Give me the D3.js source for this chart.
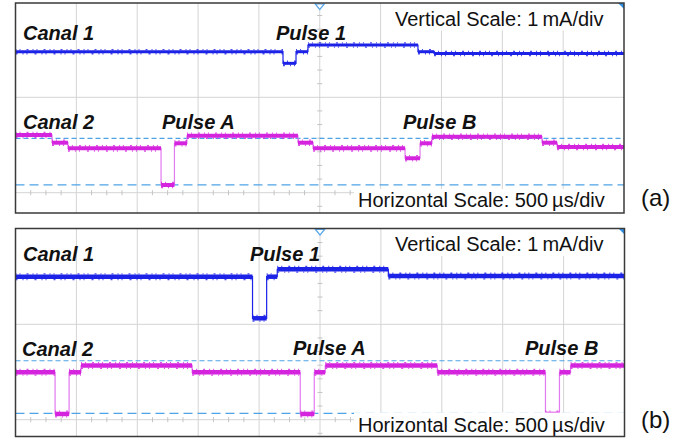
<!DOCTYPE html>
<html>
<head>
<meta charset="utf-8">
<script src="https://cdn.jsdelivr.net/npm/d3@7"></script>
<style>
  html, body { margin: 0; padding: 0; background: #fff; }
  svg { display: block; font-family: "Liberation Sans", Arial, sans-serif; }
</style>
</head>
<body>
<svg id="chart" width="695" height="438"></svg>
<script>
// ---------------- DATA ----------------
// Time in µs (10 div × 500 µs/div), current in mA relative to the screen centre line (1 mA/div)
const panelIds = ["(a)", "(b)"];
const verticalScaleText = "Vertical Scale: 1\u2009mA/div";
const horizontalScaleText = "Horizontal Scale: 500\u2009µs/div";
const timeDomain = [0, 5000];

// Panel (a) — Canal 1 (step breakpoints and levels)
const a_ch1_t = [0, 2198, 2305, 2403, 3307, 3439, 5000];
const a_ch1_v = [1.478, 1.356, 1.478, 1.548, 1.478, 1.459];
// Panel (a) — Canal 2
const a_ch2_t = [0, 300, 431, 1196, 1306, 1409, 2321, 2445, 3201, 3324, 3422, 4326, 4450, 5000];
const a_ch2_v = [0.605, 0.524, 0.465, 0.081, 0.518, 0.597, 0.524, 0.465, 0.361, 0.518, 0.587, 0.524, 0.479];
const a_cursors = [0.570, 0.081];

// Panel (b) — Canal 1
const b_ch1_t = [0, 1946, 2062, 2149, 3061, 5000];
const b_ch1_v = [1.499, 1.063, 1.499, 1.577, 1.506];
// Panel (b) — Canal 2
const b_ch2_t = [0, 325, 440, 538, 1450, 2338, 2453, 2543, 3463, 4351, 4466, 4557, 5000];
const b_ch2_v = [0.497, 0.060, 0.497, 0.568, 0.497, 0.060, 0.497, 0.568, 0.497, 0.060, 0.497, 0.568];
const b_cursors = [0.618, 0.067];

// Labels
const a_labels = ["Canal 1", "Pulse 1", "Canal 2", "Pulse A", "Pulse B"];
const b_labels = ["Canal 1", "Pulse 1", "Canal 2", "Pulse A", "Pulse B"];

// ---------------- LAYOUT / STYLE ----------------
const layout = [
  { left: 15.5, right: 624, top: 3, bottom: 213, center: 192.7,
    t: a_ch1_t, v1: a_ch1_v, t2: a_ch2_t, v2: a_ch2_v, cursors: a_cursors, labels: a_labels,
    labelPos: [[23, 40], [276, 40], [23, 129], [162, 129], [403, 129]],
    w1: 3, w2: 4, idBase: 206, vBase: 26, hBase: 206.5 },
  { left: 15.5, right: 624.5, top: 228.5, bottom: 436.5, center: 419.7,
    t: b_ch1_t, v1: b_ch1_v, t2: b_ch2_t, v2: b_ch2_v, cursors: b_cursors, labels: b_labels,
    labelPos: [[23, 261], [250, 261], [22, 356], [293, 355], [525, 355]],
    w1: 4.5, w2: 4.5, idBase: 428, vBase: 250.5, hBase: 431.5 }
];
const divPx = 95.4;
const blue = "#1c22e6", magenta = "#d424de", magentaEdge = "#e27af0";
const gridColor = "#d4d4d4", cursorColor = "#4ea3e6";

const svg = d3.select("#chart");

layout.forEach((P, pi) => {
  const g = svg.append("g");
  const x = d3.scaleLinear().domain(timeDomain).range([P.left, P.right]);
  const y = d3.scaleLinear().domain([0, 1]).range([P.center, P.center - divPx]);

  // background
  g.append("rect").attr("x", P.left).attr("y", P.top)
    .attr("width", P.right - P.left).attr("height", P.bottom - P.top).attr("fill", "#fff");

  // vertical grid lines (every 500 µs)
  const gridT = d3.range(500, 5000, 500);
  g.selectAll(".vg").data(gridT).enter().append("line")
    .attr("x1", d => x(d)).attr("x2", d => x(d))
    .attr("y1", P.top).attr("y2", P.bottom)
    .attr("stroke", gridColor).attr("stroke-width", 1);
  // horizontal grid line (1 div above centre)
  g.append("line").attr("x1", P.left).attr("x2", P.right)
    .attr("y1", y(1)).attr("y2", y(1)).attr("stroke", gridColor).attr("stroke-width", 1);
  // horizontal centre line with minor ticks
  g.append("line").attr("x1", P.left).attr("x2", P.right)
    .attr("y1", y(0)).attr("y2", y(0)).attr("stroke", gridColor).attr("stroke-width", 1);
  const minorT = d3.range(125, 5000, 125).filter(d => d % 500 !== 0);
  g.selectAll(".ht").data(minorT).enter().append("line")
    .attr("x1", d => x(d)).attr("x2", d => x(d))
    .attr("y1", y(0) - 2.5).attr("y2", y(0) + 2.5)
    .attr("stroke", "#c4c4c4").attr("stroke-width", 1);
  // vertical centre line ticks
  const yMinor = d3.range(-1, 15).map(k => k / 7).filter(v => y(v) > P.top + 4 && y(v) < P.bottom - 2 && Math.abs(v - 1) > 0.01 && Math.abs(v) > 0.01);
  g.selectAll(".vt").data(yMinor).enter().append("line")
    .attr("x1", x(2500) - 2.5).attr("x2", x(2500) + 2.5)
    .attr("y1", d => y(d)).attr("y2", d => y(d))
    .attr("stroke", "#c4c4c4").attr("stroke-width", 1);

  // cursor dashed lines
  g.append("line").attr("x1", P.left).attr("x2", P.right)
    .attr("y1", y(P.cursors[0])).attr("y2", y(P.cursors[0]))
    .attr("stroke", cursorColor).attr("stroke-width", 1.2).attr("stroke-dasharray", "5,3");
  g.append("line").attr("x1", P.left).attr("x2", P.right)
    .attr("y1", y(P.cursors[1])).attr("y2", y(P.cursors[1]))
    .attr("stroke", cursorColor).attr("stroke-width", 1.2).attr("stroke-dasharray", "9,5");

  // traces
  function drawTrace(ts, vs, color, edgeColor, w) {
    const pts = vs.map((v, i) => [ts[i], v]);
    pts.push([ts[ts.length - 1], vs[vs.length - 1]]);
    const line = d3.line().x(d => x(d[0])).y(d => y(d[1])).curve(d3.curveStepAfter);
    g.append("path").attr("d", line(pts)).attr("fill", "none")
      .attr("stroke", edgeColor).attr("stroke-width", 1.2);
    const segs = vs.map((v, i) => ({ t0: ts[i], t1: ts[i + 1], v }));
    g.selectAll(null).data(segs).enter().append("line")
      .attr("x1", d => x(d.t0)).attr("x2", d => x(d.t1))
      .attr("y1", d => y(d.v)).attr("y2", d => y(d.v))
      .attr("stroke", color).attr("stroke-width", w);
    // fuzzy edges
    g.selectAll(null).data(segs).enter().append("line")
      .attr("x1", d => x(d.t0)).attr("x2", d => x(d.t1))
      .attr("y1", d => y(d.v) - w / 2 - 0.6).attr("y2", d => y(d.v) - w / 2 - 0.6)
      .attr("stroke", color).attr("stroke-width", 1.4).attr("stroke-dasharray", "1,3,1,6,2,4")
      .attr("opacity", 0.8);
    g.selectAll(null).data(segs).enter().append("line")
      .attr("x1", d => x(d.t0)).attr("x2", d => x(d.t1))
      .attr("y1", d => y(d.v) + w / 2 + 0.6).attr("y2", d => y(d.v) + w / 2 + 0.6)
      .attr("stroke", color).attr("stroke-width", 1.4).attr("stroke-dasharray", "2,5,1,3,1,7")
      .attr("opacity", 0.8);
  }
  drawTrace(P.t, P.v1, blue, blue, P.w1);
  drawTrace(P.t2, P.v2, magenta, magentaEdge, P.w2);

  // scale text boxes
  g.append("rect").attr("x", 388).attr("y", P.top + 0.5)
    .attr("width", P.right - 388).attr("height", 27).attr("fill", "#fff");
  g.append("text").attr("x", 395).attr("y", P.vBase)
    .attr("font-size", 20).attr("fill", "#111").text(verticalScaleText);
  g.append("rect").attr("x", 354).attr("y", P.bottom - 24)
    .attr("width", P.right - 354).attr("height", 24).attr("fill", "#fff");
  g.append("text").attr("x", 358).attr("y", P.hBase)
    .attr("font-size", 20).attr("fill", "#111").text(horizontalScaleText);

  // channel / pulse labels
  g.selectAll(null).data(P.labels).enter().append("text")
    .attr("x", (d, i) => P.labelPos[i][0]).attr("y", (d, i) => P.labelPos[i][1])
    .attr("font-size", 20).attr("font-weight", "bold").attr("font-style", "italic")
    .attr("fill", "#111").text(d => d);

  // trigger marker
  const cx = x(2500);
  g.append("path")
    .attr("d", `M${cx - 4.5},${P.top + 1} L${cx + 4.5},${P.top + 1} L${cx},${P.top + 6.5} Z`)
    .attr("fill", "#fff").attr("stroke", "#5aa8ea").attr("stroke-width", 1.2);
  // corner marker
  g.append("path")
    .attr("d", `M${P.right - 6},${P.top} L${P.right},${P.top} L${P.right},${P.top + 6} Z`)
    .attr("fill", "#2f8fe4");

  // frame
  g.append("rect").attr("x", P.left).attr("y", P.top)
    .attr("width", P.right - P.left).attr("height", P.bottom - P.top)
    .attr("fill", "none").attr("stroke", "#3a3a3a").attr("stroke-width", 1.5);

  // panel id
  g.append("text").attr("x", 641).attr("y", P.idBase)
    .attr("font-size", 24).attr("fill", "#111").text(panelIds[pi]);
});
</script>
</body>
</html>
